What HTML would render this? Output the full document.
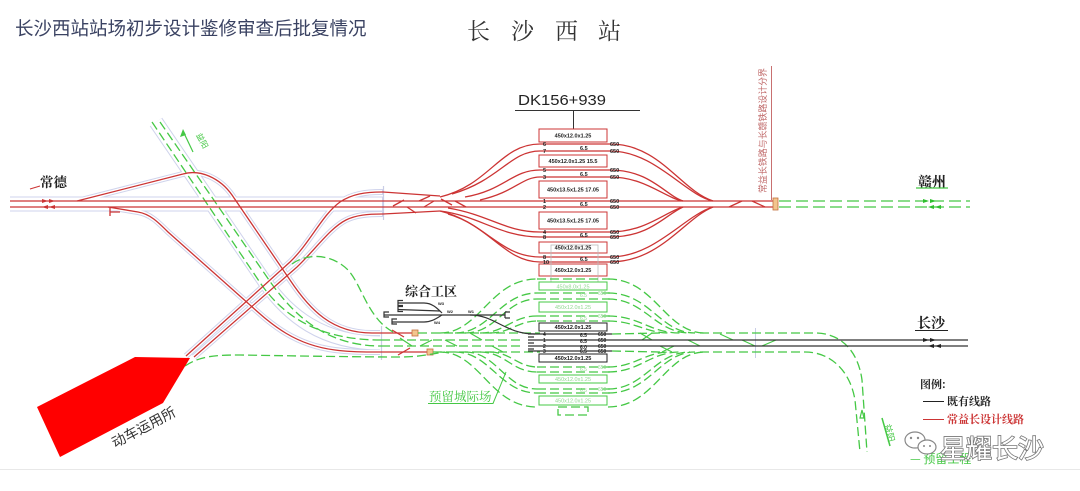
<!DOCTYPE html>
<html><head><meta charset="utf-8">
<style>
html,body{margin:0;padding:0;background:#fff;}
svg{display:block;}
</style></head><body>
<svg xmlns="http://www.w3.org/2000/svg" width="1080" height="491" viewBox="0 0 1080 491">
<rect width="1080" height="491" fill="#fff"/>

<!-- Titles -->
<text x="15" y="35" font-family="Liberation Sans, 'Noto Sans CJK SC', sans-serif" font-size="18.5" fill="#3a4262">长沙西站站场初步设计鉴修审查后批复情况</text>
<g font-family="'Noto Serif CJK SC', 'Noto Sans CJK SC', serif" font-size="23" fill="#333">
<text x="467" y="39">长</text><text x="511" y="39">沙</text><text x="555" y="39">西</text><text x="598" y="39">站</text>
</g>
<text x="518" y="105" font-family="Liberation Sans, sans-serif" font-size="15" fill="#222" textLength="88" lengthAdjust="spacingAndGlyphs">DK156+939</text>
<line x1="515" y1="110.5" x2="640" y2="110.5" stroke="#333" stroke-width="1"/>
<line x1="573.5" y1="110" x2="573.5" y2="129" stroke="#333" stroke-width="1"/>

<!-- casings (light) -->
<g fill="none" stroke="#cfd3ec" stroke-linecap="butt">
  <path d="M10 204 L383 204" stroke-width="15"/>
  <path d="M156 122 L265 282 C288 315 322 343 380 343" stroke-width="15"/>
  <g stroke-width="6">
    <path d="M77 201 L183 174 C200 169 220 178 232 195 L290 280 C310 310 332 333 372 333 L380 333"/>
    <path d="M108 207 L138 212 C150 214 158 222 168 232 L250 305 C272 325 295 345 335 350 C350 352 362 352 380 352"/>
    <path d="M186 356 L290 262 C310 243 322 215 340 202 C352 194 365 192 383 192"/>
    <path d="M194 357 L297 267 C315 250 330 228 346 220 C356 215 368 214 383 214"/>
  </g>
</g>
<g fill="none" stroke="#fff">
  <path d="M8 204 L382 204" stroke-width="13"/>
  <path d="M156 122 L265 282 C288 315 322 343 381 343" stroke-width="13"/>
  <g stroke-width="4">
    <path d="M77 201 L183 174 C200 169 220 178 232 195 L290 280 C310 310 332 333 372 333 L381 333"/>
    <path d="M108 207 L138 212 C150 214 158 222 168 232 L250 305 C272 325 295 345 335 350 C350 352 362 352 381 352"/>
    <path d="M186 356 L290 262 C310 243 322 215 340 202 C352 194 365 192 382 192"/>
    <path d="M194 357 L297 267 C315 250 330 228 346 220 C356 215 368 214 382 214"/>
  </g>
</g>
<line x1="383.5" y1="186" x2="383.5" y2="220" stroke="#c9cde6" stroke-width="1.2"/>
<line x1="381.5" y1="326" x2="381.5" y2="360" stroke="#c9cde6" stroke-width="1.2"/>
<line x1="755.5" y1="328" x2="755.5" y2="358" stroke="#c9cde6" stroke-width="1"/>

<!-- Green diagonal pair -->
<g fill="none" stroke="#45c845" stroke-width="1.3" stroke-dasharray="9 4">
  <path d="M152 122 L261 284 C284 317 320 340 381 340"/>
  <path d="M160 122 L269 280 C292 313 324 346 381 346"/>
</g>
<!-- green label arrow -->
<path d="M193 152 L183 131" stroke="#45c845" stroke-width="1.2"/>
<path d="M183 129 L180 137 L186 135 Z" fill="#45c845"/>
<text x="0" y="0" transform="translate(196,135) rotate(62)" font-family="'Noto Sans CJK SC', sans-serif" font-size="8" fill="#45c845">益阳</text>

<!-- red main lines -->
<g stroke="#cc3434" stroke-width="1.3" fill="none">
  <line x1="10" y1="201" x2="776" y2="201"/>
  <line x1="10" y1="207" x2="776" y2="207"/>
  <path d="M77 201 L183 174 C200 169 220 178 232 195 L290 280 C310 310 332 333 372 333 L412 333"/>
  <path d="M108 207 L138 212 C150 214 158 222 168 232 L250 305 C272 325 295 345 335 350 C350 352 362 352 372 352 L427 352"/>
  <path d="M186 356 L290 262 C310 243 322 215 340 202 C352 194 365 192 383 192 L440 196"/>
  <path d="M194 357 L297 267 C315 250 330 228 346 220 C356 215 368 214 383 214 L440 211"/>
  <!-- small fork at branch B -->
  <path d="M110 208 L110 216 M110 212 L120 212"/>
  <!-- left crossovers -->
  <path d="M393 206 L404 200 M407 207 L416 213 M419 201 L430 196 M424 207 L434 201 M441 199 L452 205 M455 201 L466 207"/>
  <!-- station upper fan left -->
  <path d="M440 197 C490 185 500 144 540 144"/>
  <path d="M452 194 C500 180 510 151 540 151"/>
  <path d="M465 197 C505 190 512 170 540 170"/>
  <path d="M480 200 C515 192 522 177 540 177"/>
  <!-- lower fan left -->
  <path d="M448 208 C490 215 505 232 540 232"/>
  <path d="M440 211 C480 216 500 237 540 237"/>
  <path d="M440 211 C485 222 500 257 540 257"/>
  <path d="M448 214 C490 226 505 262 540 262"/>
  <!-- track lines through station -->
  <path d="M540 144 H610 M540 151 H610 M540 170 H610 M540 177 H610 M540 232 H610 M540 237 H610 M540 257 H610 M540 262 H610"/>
  <!-- right fan -->
  <path d="M610 144 C660 144 680 190 713 201"/>
  <path d="M610 151 C655 151 685 195 713 201"/>
  <path d="M610 170 C650 170 665 195 683 201"/>
  <path d="M610 177 C645 177 665 198 683 201"/>
  <path d="M610 232 C645 232 665 212 683 207"/>
  <path d="M610 237 C650 237 665 215 683 207"/>
  <path d="M610 257 C655 257 685 215 713 207"/>
  <path d="M610 262 C660 262 685 218 713 207"/>
  <!-- right crossovers -->
  <path d="M729 207 L742 201 M752 201 L765 207"/>
  <!-- lower red crossovers -->
  <path d="M392 330 L404 337 M398 355 L410 348"/>
</g>
<!-- red arrows left -->
<g fill="#cc3434">
  <path d="M42 199 L48 201 L42 203 Z"/><path d="M49 199 L55 201 L49 203 Z"/>
  <path d="M48 205 L42 207 L48 209 Z"/><path d="M55 205 L49 207 L55 209 Z"/>
</g>
<!-- orange boxes -->
<g fill="#f2c58e" stroke="#c2703e" stroke-width="0.8">
  <rect x="412" y="330" width="6" height="6"/>
  <rect x="427" y="349" width="6" height="6"/>
  <rect x="773" y="198" width="5" height="12"/>
</g>

<!-- red station platforms -->
<g fill="#fff" stroke="#cc3434" stroke-width="1">
  <rect x="539" y="129" width="68" height="13"/>
  <rect x="539" y="155" width="68" height="12"/>
  <rect x="539" y="181" width="68" height="17"/>
  <rect x="539" y="212" width="68" height="17"/>
  <rect x="539" y="242" width="68" height="11"/>
  <rect x="539" y="264" width="68" height="12"/>
</g>
<rect x="551" y="245" width="47" height="38" fill="none" stroke="#bbb" stroke-width="0.8"/>
<g font-family="Liberation Sans, sans-serif" font-size="5.5" fill="#222" font-weight="bold">
  <text x="573" y="137.5" text-anchor="middle">450x12.0x1.25</text>
  <text x="573" y="163" text-anchor="middle">450x12.0x1.25  15.5</text>
  <text x="573" y="191.5" text-anchor="middle">450x13.5x1.25  17.05</text>
  <text x="573" y="222.5" text-anchor="middle">450x13.5x1.25  17.05</text>
  <text x="573" y="249.5" text-anchor="middle">450x12.0x1.25</text>
  <text x="573" y="272" text-anchor="middle">450x12.0x1.25</text>
  <text x="543" y="146">6</text><text x="543" y="153">7</text>
  <text x="543" y="172">5</text><text x="543" y="179">3</text>
  <text x="543" y="203">1</text><text x="543" y="209">2</text>
  <text x="543" y="234">4</text><text x="543" y="239">8</text>
  <text x="543" y="259">8</text><text x="543" y="264">10</text>
  <text x="580" y="150">6.5</text><text x="580" y="176">6.5</text><text x="580" y="206">6.5</text><text x="580" y="237">6.5</text><text x="580" y="261">6.5</text>
  <text x="610" y="146">650</text><text x="610" y="153">650</text>
  <text x="610" y="172">650</text><text x="610" y="179">650</text>
  <text x="610" y="203">650</text><text x="610" y="209">650</text>
  <text x="610" y="234">650</text><text x="610" y="239">650</text>
  <text x="610" y="259">650</text><text x="610" y="264">650</text>
</g>

<!-- boundary line & text -->
<line x1="771.5" y1="66" x2="771.5" y2="200" stroke="#c87070" stroke-width="1"/>
<text transform="translate(766,193) rotate(-90)" font-family="'Noto Sans CJK SC', sans-serif" font-size="9" fill="#c06a6a" textLength="125" lengthAdjust="spacingAndGlyphs">常益长铁路与长赣铁路设计分界</text>

<!-- green to Ganzhou -->
<g stroke="#45c845" stroke-width="1.3" stroke-dasharray="12 5" fill="none">
  <line x1="779" y1="201" x2="970" y2="201"/>
  <line x1="779" y1="207" x2="970" y2="207"/>
</g>
<g fill="#2fbf2f">
  <path d="M923 199 L929 201 L923 203 Z"/><path d="M930 199 L936 201 L930 203 Z"/>
  <path d="M934 205 L928 207 L934 209 Z"/><path d="M941 205 L935 207 L941 209 Z"/>
</g>
<text x="918" y="187" font-family="'Noto Serif CJK SC', 'Noto Sans CJK SC', serif" font-size="14" font-weight="bold" fill="#222">赣州</text>
<line x1="916" y1="188" x2="948" y2="188" stroke="#45c845" stroke-width="1.2"/>
<text x="40" y="187" font-family="'Noto Serif CJK SC', 'Noto Sans CJK SC', serif" font-size="13.5" font-weight="bold" fill="#222">常德</text>
<path d="M30 189 L40 186" stroke="#cc3434" stroke-width="1"/>

<!-- Lower green station & lines -->
<g fill="none" stroke="#45c845" stroke-width="1.3" stroke-dasharray="9 4">
  <!-- arc -->
  <path d="M292 264 C305 254 330 252 348 270 C362 285 368 320 395 333"/>
  <!-- horizontals left -->
  <path d="M418 333 L540 333"/>
  <path d="M381 340 L520 340"/>
  <path d="M381 346 L520 346"/>
  <path d="M433 352 L540 352"/>
  <path d="M185 366 C200 356 215 355 240 355 C300 356 360 357 400 357 C420 357 430 354 445 352"/>
  <!-- left fan up -->
  <path d="M440 333 C480 333 490 279 537 279"/>
  <path d="M455 333 C490 333 500 293 537 293"/>
  <path d="M465 333 C497 333 505 299 537 299"/>
  <path d="M480 333 C505 333 512 316 537 316"/>
  <path d="M490 333 C510 333 518 321 537 321"/>
  <!-- left fan down -->
  <path d="M490 352 C510 352 518 367 537 367"/>
  <path d="M480 352 C505 352 512 372 537 372"/>
  <path d="M465 352 C497 352 505 389 537 389"/>
  <path d="M455 352 C490 352 500 393 537 393"/>
  <path d="M440 352 C480 352 490 407 537 407"/>
  <!-- through tracks -->
  <path d="M537 279 H610 M537 293 H610 M537 299 H610 M537 316 H610 M537 321 H610 M537 367 H610 M537 372 H610 M537 389 H610 M537 393 H610"/>
  <!-- right fan -->
  <path d="M608 279 C655 279 665 333 705 333"/>
  <path d="M608 293 C650 293 660 333 695 333"/>
  <path d="M608 299 C645 299 655 333 690 333"/>
  <path d="M608 316 C640 316 650 333 680 333"/>
  <path d="M608 321 C635 321 645 333 670 333"/>
  <path d="M608 367 C635 367 645 352 670 352"/>
  <path d="M608 372 C640 372 650 352 680 352"/>
  <path d="M608 389 C645 389 655 352 690 352"/>
  <path d="M608 393 C650 393 660 352 695 352"/>
  <path d="M608 407 C655 407 665 352 705 352"/>
  <path d="M612 334 L660 333 M612 351 L660 352"/>
  <!-- outgoing curves -->
  <path d="M700 333 L815 333 C840 333 858 350 862 380 L867 452"/>
  <path d="M700 352 L805 352 C830 352 850 370 855 400 L860 452"/>
  <!-- bottom box -->
  <path d="M558 407 H588 V415 H558 Z"/>
</g>
<!-- green crossovers -->
<g stroke="#45c845" stroke-width="1.2" fill="none">
  <path d="M400 338 L412 346 M420 346 L432 340 M445 340 L457 346 M470 333 L482 340 M492 346 L503 352"/>
  <path d="M640 333 L652 340 M642 340 L652 333 M660 346 L672 352 M662 352 L674 346 M688 340 L700 346 M720 334 L733 340 M742 340 L755 346 M762 346 L776 340"/>
  <path d="M862 410 L860 418 L864 418 Z"/>
</g>

<!-- green & black platforms -->
<g fill="#fff" stroke="#45c845" stroke-width="1">
  <rect x="539" y="282" width="68" height="8"/>
  <rect x="539" y="302" width="68" height="10"/>
  <rect x="539" y="375" width="68" height="8"/>
  <rect x="539" y="396" width="68" height="9"/>
</g>
<g fill="#fff" stroke="#222" stroke-width="1">
  <rect x="539" y="323" width="68" height="8"/>
  <rect x="539" y="354" width="68" height="8"/>
</g>
<!-- black tracks -->
<g stroke="#333" stroke-width="1.2" fill="none">
  <path d="M528 334 H612 M528 351 H612"/>
  <path d="M528 340 H968 M528 346 H968"/>
  <!-- yard -->
  <path d="M398 303 L424 303 C432 303 437 308 442 313"/>
  <path d="M398 309.5 L440 311"/>
  <path d="M384 315 L505 315"/>
  <path d="M392 322 L424 322 C432 322 437 318 442 315"/>
  <path d="M470 315 C495 315 505 334 535 334"/>
  <path d="M403 300.5 h-5 v5 h5 M403 306.5 h-5 v5 h5 M389 312 h-5 v5 h5 M397 319 h-5 v5 h5 M505 312 h5 M505 318 h5 M505 312 v6"/>
  <path d="M528 337 h6 M528 343 h6 M528 349 h6"/>
</g>
<g font-family="Liberation Sans, sans-serif" font-size="4" fill="#222" font-weight="bold">
  <text x="438" y="305">W3</text><text x="447" y="313">W2</text><text x="434" y="324">W4</text><text x="468" y="313">W1</text>
</g>
<g font-family="Liberation Sans, sans-serif" font-size="5.5" text-anchor="middle">
  <text x="573" y="288.5" fill="#8fd88f">450x8.0x1.25</text>
  <text x="573" y="309" fill="#8fd88f">450x12.0x1.25</text>
  <text x="573" y="329" fill="#111" font-weight="bold">450x12.0x1.25</text>
  <text x="573" y="360" fill="#111" font-weight="bold">450x12.0x1.25</text>
  <text x="573" y="381" fill="#8fd88f">450x12.0x1.25</text>
  <text x="573" y="402.5" fill="#8fd88f">450x12.0x1.25</text>
</g>
<g font-family="Liberation Sans, sans-serif" font-size="5" fill="#222" font-weight="bold">
  <text x="543" y="336">4</text><text x="543" y="342">1</text><text x="543" y="348">2</text><text x="543" y="353">3</text>
  <text x="580" y="337">6.5</text><text x="580" y="343">6.5</text><text x="580" y="349">6.0</text><text x="580" y="353">6.5</text>
  <text x="598" y="336">650</text><text x="598" y="342">650</text><text x="598" y="348">650</text><text x="598" y="353">650</text>
</g>
<g font-family="Liberation Sans, sans-serif" font-size="5" fill="#8fd88f">
  <text x="580" y="297">6.5</text><text x="580" y="320">6.5</text><text x="580" y="371">6.5</text><text x="580" y="392">6.5</text>
  <text x="598" y="295">650</text><text x="598" y="318">650</text><text x="598" y="369">650</text><text x="598" y="391">650</text>
</g>

<!-- labels lower -->
<text x="405" y="296" font-family="'Noto Serif CJK SC', 'Noto Sans CJK SC', serif" font-size="13" font-weight="bold" fill="#222">综合工区</text>
<text x="429" y="401" font-family="'Noto Serif CJK SC', 'Noto Sans CJK SC', serif" font-size="12.5" fill="#45c845">预留城际场</text>
<path d="M428 403.5 L493 403.5 L506 372" stroke="#45c845" stroke-width="1" fill="none"/>

<!-- depot -->
<polygon points="37,407 135,357 190,358 163,403 60,457" fill="#ff0000"/>
<text transform="translate(115,448) rotate(-28)" font-family="'Noto Sans CJK SC', sans-serif" font-size="14" fill="#333">动车运用所</text>

<!-- Changsha label -->
<text x="917" y="328" font-family="'Noto Serif CJK SC', 'Noto Sans CJK SC', serif" font-size="14" font-weight="bold" fill="#222">长沙</text>
<line x1="915" y1="330.5" x2="948" y2="330.5" stroke="#222" stroke-width="1"/>
<g fill="#222">
  <path d="M923 338 L929 340 L923 342 Z"/><path d="M930 338 L936 340 L930 342 Z"/>
  <path d="M934 344 L928 346 L934 348 Z"/><path d="M941 344 L935 346 L941 348 Z"/>
</g>

<!-- Legend -->
<g font-family="'Noto Serif CJK SC', 'Noto Sans CJK SC', serif" font-size="11" font-weight="bold">
  <text x="920" y="388" fill="#222">图例:</text>
  <line x1="923" y1="401.5" x2="944" y2="401.5" stroke="#222" stroke-width="1"/>
  <text x="947" y="405" fill="#222">既有线路</text>
  <line x1="923" y1="419.5" x2="944" y2="419.5" stroke="#cc3434" stroke-width="1"/>
  <text x="947" y="423" fill="#cc3434">常益长设计线路</text>
</g>
<!-- green small texts bottom right -->
<path d="M882 418 L890 446" stroke="#45c845" stroke-width="1.5"/>
<text transform="translate(884,425) rotate(75)" font-family="'Noto Sans CJK SC', sans-serif" font-size="9" fill="#45c845">益阳</text>
<text x="910" y="463" font-family="'Noto Sans CJK SC', sans-serif" font-size="12" fill="#45c845">— 预留工程</text>

<!-- watermark -->
<g fill="#fff" stroke="#888" stroke-width="1.2">
  <ellipse cx="915" cy="440" rx="10" ry="8"/>
  <ellipse cx="927" cy="447" rx="9" ry="7"/>
</g>
<g fill="#888"><circle cx="911" cy="438" r="1.2"/><circle cx="918" cy="438" r="1.2"/><circle cx="924" cy="446" r="1"/><circle cx="930" cy="446" r="1"/></g>
<text x="940" y="458" font-family="'Noto Sans CJK SC', sans-serif" font-size="26" fill="#fff" stroke="#777" stroke-width="1.6" paint-order="stroke" textLength="104" lengthAdjust="spacingAndGlyphs">星耀长沙</text>

<!-- bottom rule -->
<line x1="0" y1="469.5" x2="1080" y2="469.5" stroke="#e8e8e8" stroke-width="1"/>
</svg>
</body></html>
